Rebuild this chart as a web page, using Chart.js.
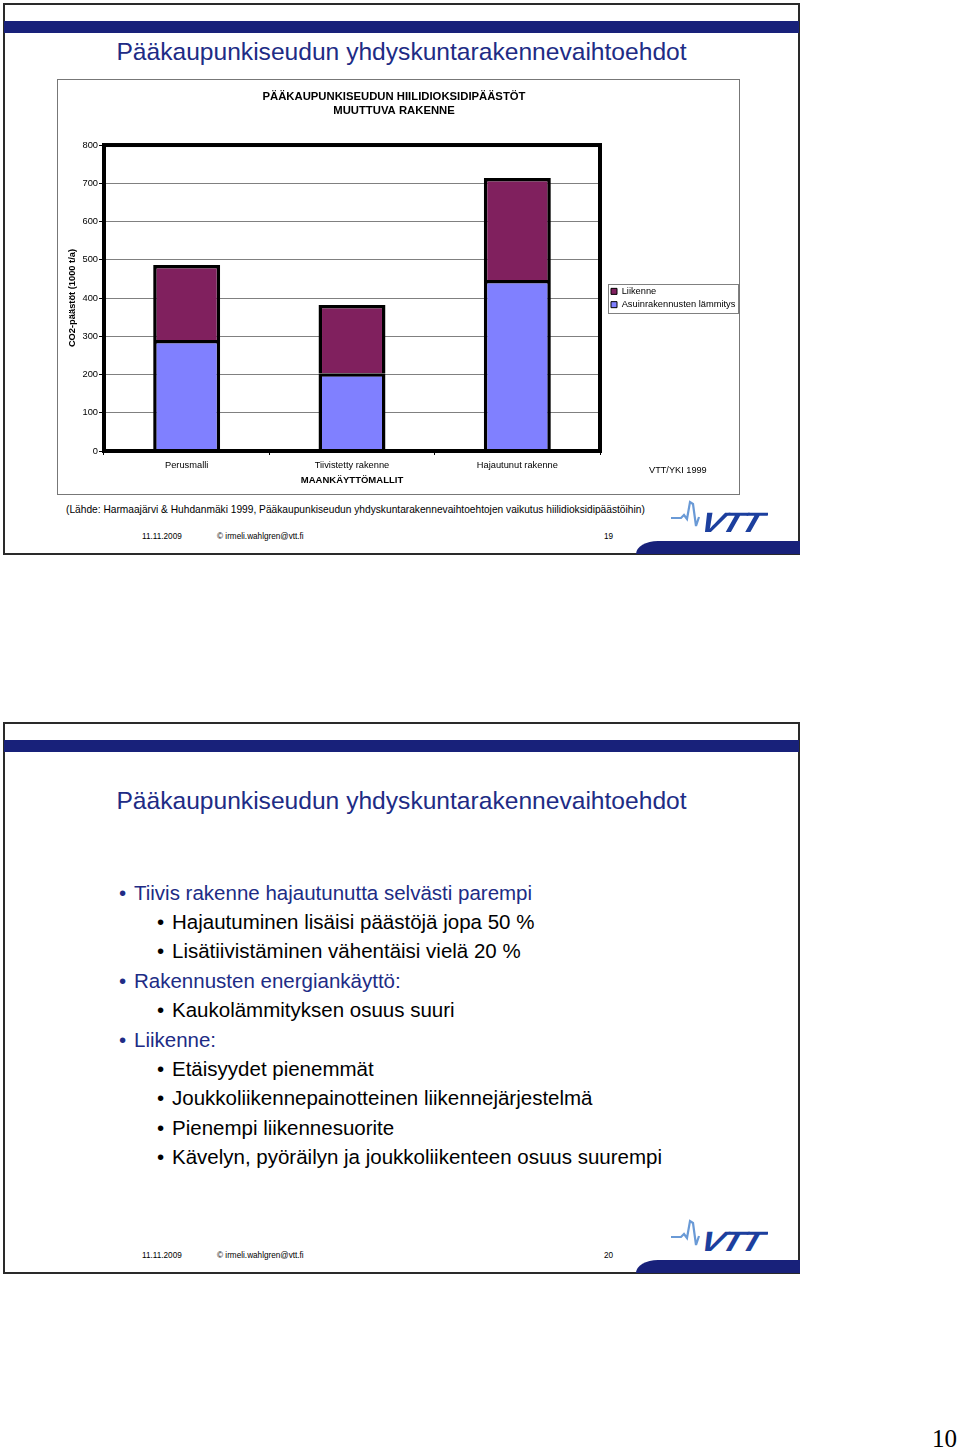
<!DOCTYPE html>
<html>
<head>
<meta charset="utf-8">
<script src="https://cdn.jsdelivr.net/npm/chart.js@4.4.0/dist/chart.umd.min.js"></script>
<style>
  body { margin:0; width:960px; height:1452px; background:#fff; position:relative; overflow:hidden;
         font-family:"Liberation Sans", Arial, sans-serif; }
  .abs { position:absolute; white-space:nowrap; }
  .slide { position:absolute; left:3px; width:797px; height:552px; border:2px solid #2a2a2a; box-sizing:border-box; }
  .band { position:absolute; left:4px; width:795px; height:12px; background:#18217a; }
  .title { position:absolute; left:3px; width:797px; text-align:center; font-size:24.6px; line-height:28px; color:#202b85; }
  .foot { position:absolute; font-size:8.2px; line-height:10px; color:#000; }
  .corner { position:absolute; left:636px; width:164px; height:13px; background:#18217a; border-top-left-radius:22px 13px; }
  .logo { position:absolute; left:668px; width:100px; height:40px; }
  .l1 { position:absolute; left:119px; font-size:20.5px; line-height:24px; color:#202b85; }
  .l2 { position:absolute; left:157px; font-size:20.5px; line-height:24px; color:#000; }
  .l1 span, .l2 span { display:inline-block; width:15px; }
</style>
</head>
<body>

<!-- slide 19 -->
<div class="slide" style="top:3px"></div>
<div class="band" style="top:21px"></div>
<div class="title" style="top:38px">Pääkaupunkiseudun yhdyskuntarakennevaihtoehdot</div>
<div class="abs" style="left:57px;top:79px;width:683px;height:416px;border:1px solid #777;box-sizing:border-box"></div>
<canvas id="chart" class="abs" width="682" height="415" style="left:58px;top:80px"></canvas>
<div class="abs" style="left:649px;top:464px;font-size:9.2px;line-height:12px">VTT/YKI 1999</div>
<div class="abs" style="left:66px;top:504px;font-size:10.2px;line-height:12px">(Lähde: Harmaajärvi &amp; Huhdanmäki 1999, Pääkaupunkiseudun yhdyskuntarakennevaihtoehtojen vaikutus hiilidioksidipäästöihin)</div>
<div class="foot" style="left:142px;top:532px">11.11.2009</div>
<div class="foot" style="left:217px;top:532px">© irmeli.wahlgren@vtt.fi</div>
<div class="foot" style="left:604px;top:532px">19</div>
<svg class="logo" style="top:497px" viewBox="0 0 100 40">
  <polyline points="3,21 13,21 16,18 19,22 22,5 25,7 28,29 31,20" fill="none" stroke="#6a9ad6" stroke-width="2.2"/>
  <text x="0" y="0" font-family="Liberation Sans, Arial" font-weight="bold" font-style="italic" font-size="28" fill="#1c3f9e" transform="translate(30,35) scale(1.28,1) skewX(-14)" letter-spacing="-2">VTT</text>
</svg>
<div class="corner" style="top:541px"></div>

<!-- slide 20 -->
<div class="slide" style="top:722px"></div>
<div class="band" style="top:740px"></div>
<div class="title" style="top:787px">Pääkaupunkiseudun yhdyskuntarakennevaihtoehdot</div>
<div class="l1" style="top:881px"><span>•</span>Tiivis rakenne hajautunutta selvästi parempi</div>
<div class="l2" style="top:910px"><span>•</span>Hajautuminen lisäisi päästöjä jopa 50 %</div>
<div class="l2" style="top:939px"><span>•</span>Lisätiivistäminen vähentäisi vielä 20 %</div>
<div class="l1" style="top:969px"><span>•</span>Rakennusten energiankäyttö:</div>
<div class="l2" style="top:998px"><span>•</span>Kaukolämmityksen osuus suuri</div>
<div class="l1" style="top:1028px"><span>•</span>Liikenne:</div>
<div class="l2" style="top:1057px"><span>•</span>Etäisyydet pienemmät</div>
<div class="l2" style="top:1086px"><span>•</span>Joukkoliikennepainotteinen liikennejärjestelmä</div>
<div class="l2" style="top:1116px"><span>•</span>Pienempi liikennesuorite</div>
<div class="l2" style="top:1145px"><span>•</span>Kävelyn, pyöräilyn ja joukkoliikenteen osuus suurempi</div>
<div class="foot" style="left:142px;top:1251px">11.11.2009</div>
<div class="foot" style="left:217px;top:1251px">© irmeli.wahlgren@vtt.fi</div>
<div class="foot" style="left:604px;top:1251px">20</div>
<svg class="logo" style="top:1216px" viewBox="0 0 100 40">
  <polyline points="3,21 13,21 16,18 19,22 22,5 25,7 28,29 31,20" fill="none" stroke="#6a9ad6" stroke-width="2.2"/>
  <text x="0" y="0" font-family="Liberation Sans, Arial" font-weight="bold" font-style="italic" font-size="28" fill="#1c3f9e" transform="translate(30,35) scale(1.28,1) skewX(-14)" letter-spacing="-2">VTT</text>
</svg>
<div class="corner" style="top:1260px"></div>

<div class="abs" style="right:3px;top:1424px;font-family:'Liberation Serif', 'DejaVu Serif', serif;font-size:25px;line-height:30px">10</div>

<script>
// data (1000 t/a)
var categories = ['Perusmalli', 'Tiivistetty rakenne', 'Hajautunut rakenne'];
var heating = [290, 203, 447];   // Asuinrakennusten lämmitys
var traffic = [196, 179, 267];   // Liikenne
var yMax = 800;
var yStep = 100;

var font = '"Liberation Sans", Arial, sans-serif';

var framePlugin = {
	id: 'plotFrame',
	afterLayout: function(chart){
		// nudge legend a little away from the plot
		chart.legend.left += 7;
		chart.legend.right += 7;
	},
	afterDatasetsDraw: function(chart){
		var a = chart.chartArea, ctx = chart.ctx;
		ctx.save();
		ctx.strokeStyle = '#000';
		ctx.lineWidth = 4;
		ctx.strokeRect(a.left, a.top, a.right - a.left, a.bottom - a.top);
		ctx.restore();
	},
	afterDraw: function(chart){
		var boxes = chart.legend.legendHitBoxes;
		if(!boxes || !boxes.length) return;
		var l = Infinity, t = Infinity, r = -Infinity, b = -Infinity;
		boxes.forEach(function(h){
			l = Math.min(l, h.left); t = Math.min(t, h.top);
			r = Math.max(r, h.left + h.width); b = Math.max(b, h.top + h.height);
		});
		var ctx = chart.ctx;
		ctx.save();
		ctx.strokeStyle = '#808080';
		ctx.lineWidth = 1;
		ctx.strokeRect(Math.round(l - 3) + 0.5, Math.round(t - 3) + 0.5, Math.round(r - l + 6), Math.round(b - t + 6));
		ctx.restore();
	}
};

var ctx = document.getElementById('chart').getContext('2d');
new Chart(ctx, {
	type: 'bar',
	data: {
		labels: categories,
		datasets: [
			{
				label: 'Asuinrakennusten lämmitys',
				data: heating,
				backgroundColor: '#8080ff',
				borderColor: '#000',
				borderWidth: 3.5,
				categoryPercentage: 1,
				barPercentage: 0.405
			},
			{
				label: 'Liikenne',
				data: traffic,
				backgroundColor: '#80205e',
				borderColor: '#000',
				borderWidth: 3.5,
				categoryPercentage: 1,
				barPercentage: 0.405
			}
		]
	},
	options: {
		responsive: false,
		animation: false,
		devicePixelRatio: 1,
		layout: { padding: { left: 0, right: 10, top: 0, bottom: 0 } },
		plugins: {
			title: {
				display: true,
				text: ['PÄÄKAUPUNKISEUDUN HIILIDIOKSIDIPÄÄSTÖT', 'MUUTTUVA RAKENNE'],
				color: '#000',
				font: { family: font, size: 11.3, weight: 'bold', lineHeight: 1.24 },
				padding: { top: 10, bottom: 27 }
			},
			legend: {
				position: 'right',
				fullSize: false,
				reverse: true,
				maxWidth: 130,
				labels: {
					color: '#000',
					font: { family: font, size: 9.3 },
					boxWidth: 6,
					boxHeight: 6,
					padding: 4,
					generateLabels: function(chart){
						var items = Chart.defaults.plugins.legend.labels.generateLabels(chart);
						items.forEach(function(it){ it.lineWidth = 1; it.strokeStyle = '#000'; });
						return items;
					}
				}
			},
			tooltip: { enabled: false }
		},
		scales: {
			x: {
				stacked: true,
				offset: true,
				border: { display: false },
				grid: { offset: true, drawOnChartArea: false, drawTicks: true, tickLength: 4, color: '#000' },
				ticks: { color: '#000', font: { family: font, size: 9.3 }, padding: 4.4, maxRotation: 0 },
				title: {
					display: true,
					text: 'MAANKÄYTTÖMALLIT',
					color: '#000',
					font: { family: font, size: 9.5, weight: 'bold' },
					padding: { top: 0, bottom: 9.4 }
				},
				afterFit: function(s){ s.height = 44; }
			},
			y: {
				stacked: true,
				min: 0,
				max: yMax,
				border: { display: false },
				grid: { color: '#808080', lineWidth: 1, tickColor: '#000', tickLength: 5 },
				ticks: { stepSize: yStep, color: '#000', font: { family: font, size: 9.3 }, padding: 1 },
				title: {
					display: true,
					text: 'CO2-päästöt (1000 t/a)',
					color: '#000',
					font: { family: font, size: 9.3, weight: 'bold' },
					padding: { top: 8.4, bottom: 0 }
				},
				afterFit: function(s){ s.width = 46; }
			}
		}
	},
	plugins: [framePlugin]
});
</script>
</body>
</html>
